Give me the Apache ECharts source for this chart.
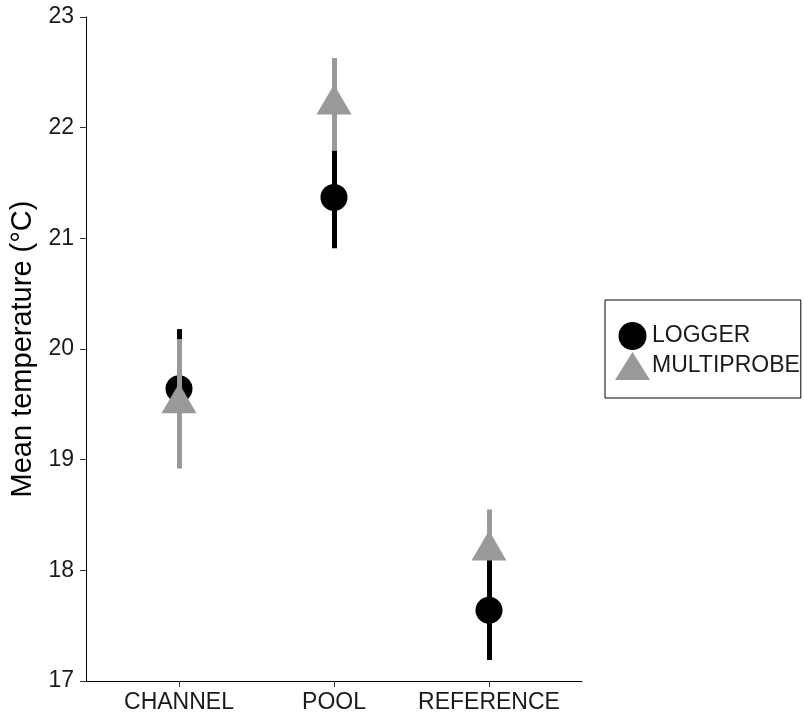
<!DOCTYPE html>
<html>
<head>
<meta charset="utf-8">
<script src="https://cdn.jsdelivr.net/npm/echarts@6/dist/echarts.min.js"></script>
<style>
html,body{margin:0;padding:0;background:#fff;}
#chart{width:804px;height:715px;}
</style>
</head>
<body>
<div id="chart"></div>
<script>
const categories = ['CHANNEL', 'POOL', 'REFERENCE'];
const catPositions = [1, 2, 3];
const loggerMean = [19.64, 21.37, 17.64];
const loggerLow  = [19.10, 20.91, 17.19];
const loggerHigh = [20.18, 21.80, 18.10];
const multiMean  = [19.51, 22.21, 18.18];
const multiLow   = [18.92, 21.79, 18.10];
const multiHigh  = [20.09, 22.63, 18.55];
const yTicks = [17, 18, 19, 20, 21, 22, 23];

const FONT = '"Liberation Sans", Arial, sans-serif';
const BLACK = '#000000';
const GREY = '#999999';
const TEXT = '#1a1a1a';

function errData(low, high) {
  return catPositions.map((x, i) => [x, low[i], high[i]]);
}
function ptData(mean) {
  return catPositions.map((x, i) => [x, mean[i]]);
}
function errRender(color) {
  return function (params, api) {
    const x = api.value(0);
    const p1 = api.coord([x, api.value(1)]);
    const p2 = api.coord([x, api.value(2)]);
    const cx = Math.round(p1[0] - 0.5) + 0.5;
    return {
      type: 'line',
      shape: { x1: cx, y1: p1[1], x2: cx, y2: p2[1] },
      style: { stroke: color, lineWidth: 5, lineCap: 'butt' },
      silent: true
    };
  };
}

const chart = echarts.init(document.getElementById('chart'), null, { renderer: 'canvas' });
chart.setOption({
  animation: false,
  backgroundColor: '#ffffff',
  textStyle: { fontFamily: FONT },
  grid: { left: 86, right: 222, top: 17, bottom: 34, containLabel: false },
  legend: {
    orient: 'vertical',
    left: 605,
    top: 300,
    data: ['LOGGER', 'MULTIPROBE'],
    itemWidth: 35,
    itemHeight: 28,
    itemGap: 2,
    padding: [22, 1, 18, 10],
    borderColor: '#000',
    borderWidth: 1,
    borderRadius: 0,
    selectedMode: false,
    textStyle: { fontSize: 23, color: TEXT, fontFamily: FONT, padding: [0, 0, 0, -3] }
  },
  xAxis: {
    type: 'value',
    min: 0.4,
    max: 3.6,
    splitLine: { show: false },
    axisLine: { show: true, onZero: false, lineStyle: { color: BLACK, width: 1 } },
    axisTick: { show: true, length: 6, customValues: catPositions, lineStyle: { color: '#333' } },
    axisLabel: {
      customValues: catPositions,
      formatter: v => categories[Math.round(v) - 1],
      fontSize: 23, color: TEXT, margin: 10, fontFamily: FONT
    }
  },
  yAxis: {
    type: 'value',
    min: yTicks[0],
    max: yTicks[yTicks.length - 1],
    interval: 1,
    name: 'Mean temperature (°C)',
    nameLocation: 'middle',
    nameRotate: 90,
    nameGap: 47,
    nameTextStyle: { fontSize: 29, color: '#000', fontFamily: FONT },
    splitLine: { show: false },
    axisLine: { show: true, onZero: false, lineStyle: { color: BLACK, width: 1 } },
    axisTick: { show: true, length: 6, lineStyle: { color: '#333' } },
    axisLabel: { fontSize: 23, color: TEXT, margin: 12, fontFamily: FONT }
  },
  series: [
    {
      name: 'logger-err', type: 'custom', data: errData(loggerLow, loggerHigh),
      renderItem: errRender(BLACK), encode: { x: 0, y: [1, 2] }, z: 2
    },
    {
      name: 'LOGGER', type: 'scatter', data: ptData(loggerMean),
      symbol: 'circle', symbolSize: 27,
      itemStyle: { color: BLACK, opacity: 1 }, emphasis: { disabled: true }, z: 3
    },
    {
      name: 'multi-err', type: 'custom', data: errData(multiLow, multiHigh),
      renderItem: errRender(GREY), encode: { x: 0, y: [1, 2] }, z: 4
    },
    {
      name: 'MULTIPROBE', type: 'scatter', data: ptData(multiMean),
      symbol: 'triangle', symbolSize: [35, 30], symbolOffset: [0, -5],
      itemStyle: { color: GREY, opacity: 1 }, emphasis: { disabled: true }, z: 5
    }
  ]
});
</script>
</body>
</html>
